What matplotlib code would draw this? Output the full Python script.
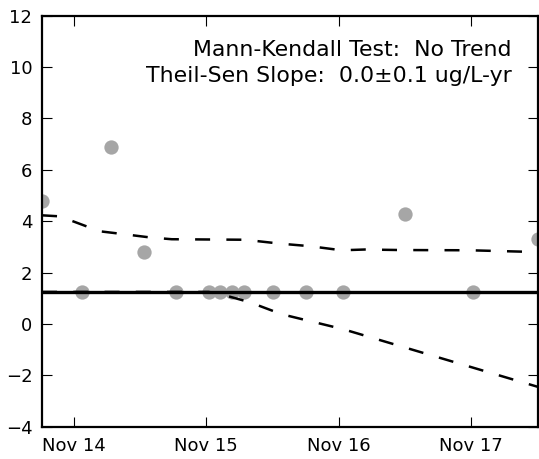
import pandas as pd
import matplotlib
matplotlib.use("Agg")
import matplotlib.pyplot as plt
import matplotlib.dates as mdates

plt.rcParams['font.family'] = ['DejaVu Sans']

# sample dates and concentrations (ug/L)
sample_dates = ['2014-08-05', '2014-11-24', '2015-02-11', '2015-05-14', '2015-08-11',
                '2015-11-08', '2015-12-09', '2016-01-12', '2016-02-12', '2016-05-03',
                '2016-08-02', '2016-11-13', '2017-05-02', '2017-11-05', '2018-05-06']
conc = [4.8, 1.25, 6.9, 2.8, 1.25, 1.25, 1.25, 1.25, 1.25, 1.25, 1.25, 1.25, 4.3, 1.25, 3.3]

# Theil-Sen line
sen_slope = 0.0
sen_intercept = 1.25

# confidence bands
upper_dates = ['2014-08-05', '2014-09-23', '2015-01-11', '2015-03-05', '2015-05-30',
               '2015-07-29', '2016-02-16', '2016-05-22', '2016-08-13', '2016-11-09',
               '2017-01-12', '2017-04-18', '2017-10-29', '2018-05-06']
upper_vals = [4.23, 4.19, 3.61, 3.52, 3.37, 3.30, 3.28, 3.13, 3.03, 2.87, 2.90, 2.88, 2.87, 2.80]
lower_dates = ['2014-08-05', '2015-11-08', '2015-12-22', '2016-02-29', '2016-05-28',
               '2016-11-13', '2018-05-06']
lower_vals = [1.25, 1.25, 1.12, 0.85, 0.38, -0.2, -2.45]

tick_dates = ['2014-11-01', '2015-11-01', '2016-11-01', '2017-11-01']

line1 = "Mann-Kendall Test:  No Trend"
line2 = "Theil-Sen Slope:  0.0\u00b10.1 ug/L-yr"

x = pd.to_datetime(sample_dates)

fig = plt.figure(figsize=(5.39, 4.59), dpi=100)
ax = fig.add_axes([0.078, 0.07, 0.921, 0.896])

ax.plot(x, conc, 'o', color='#a6a6a6', markersize=10.3, markeredgewidth=0, zorder=2)
ax.plot(pd.to_datetime(upper_dates), upper_vals, color='black', lw=1.8,
        dashes=(6, 6.5), zorder=3)
ax.plot(pd.to_datetime(lower_dates), lower_vals, color='black', lw=1.8,
        dashes=(6, 6.5), zorder=3)
ax.axhline(sen_intercept, color='black', lw=2.4, zorder=4)

ax.set_xlim(x[0], x[-1])
ax.set_ylim(-4, 12)
ax.set_yticks(range(-4, 13, 2))
ax.set_xticks(pd.to_datetime(tick_dates))
ax.xaxis.set_major_formatter(mdates.DateFormatter('%b %y'))

ax.tick_params(direction='in', length=7, width=0.8, top=True, right=True,
               labelsize=13, pad=7)
for s in ax.spines.values():
    s.set_linewidth(1.6)

ax.text(0.946, 0.9016, line1, transform=ax.transAxes, ha='right', va='baseline', fontsize=15.8)
ax.text(0.946, 0.839, line2, transform=ax.transAxes, ha='right', va='baseline', fontsize=15.8)

fig.savefig('out.png', dpi=100)
